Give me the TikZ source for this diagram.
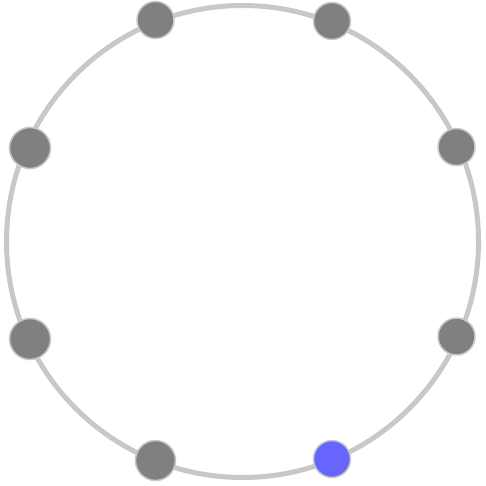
\documentclass[tikz,border=0pt]{standalone}
\begin{document}
\begin{tikzpicture}[x=1pt,y=-1pt,
  ring/.style={draw=ringgray,line width=5pt},
  dot/.style={circle,draw=ringgray,line width=1.5pt,fill=dotgray,inner sep=0pt,minimum size=#1},
  dot/.default=37pt,
  bluedot/.style={dot,fill=dotblue}]
\definecolor{ringgray}{HTML}{C8C8C8}
\definecolor{dotgray}{HTML}{808080}
\definecolor{dotblue}{HTML}{6666FF}
\useasboundingbox (0,0) rectangle (486,486);
\coordinate (c) at (242.5,241.5);
\draw[ring] (c) circle[radius=236];
\node[dot=37pt] (n1) at (155.5,20) {};
\node[dot=37pt] (n2) at (332,21) {};
\node[dot=41pt] (n3) at (30,148) {};
\node[dot=37pt] (n4) at (456.5,147) {};
\node[dot=41pt] (n5) at (30,339) {};
\node[dot=37pt] (n6) at (456.5,336.5) {};
\node[dot=40pt] (n7) at (155.5,460.5) {};
\node[bluedot,minimum size=37pt] (n8) at (332,459) {};
\end{tikzpicture}
\end{document}
